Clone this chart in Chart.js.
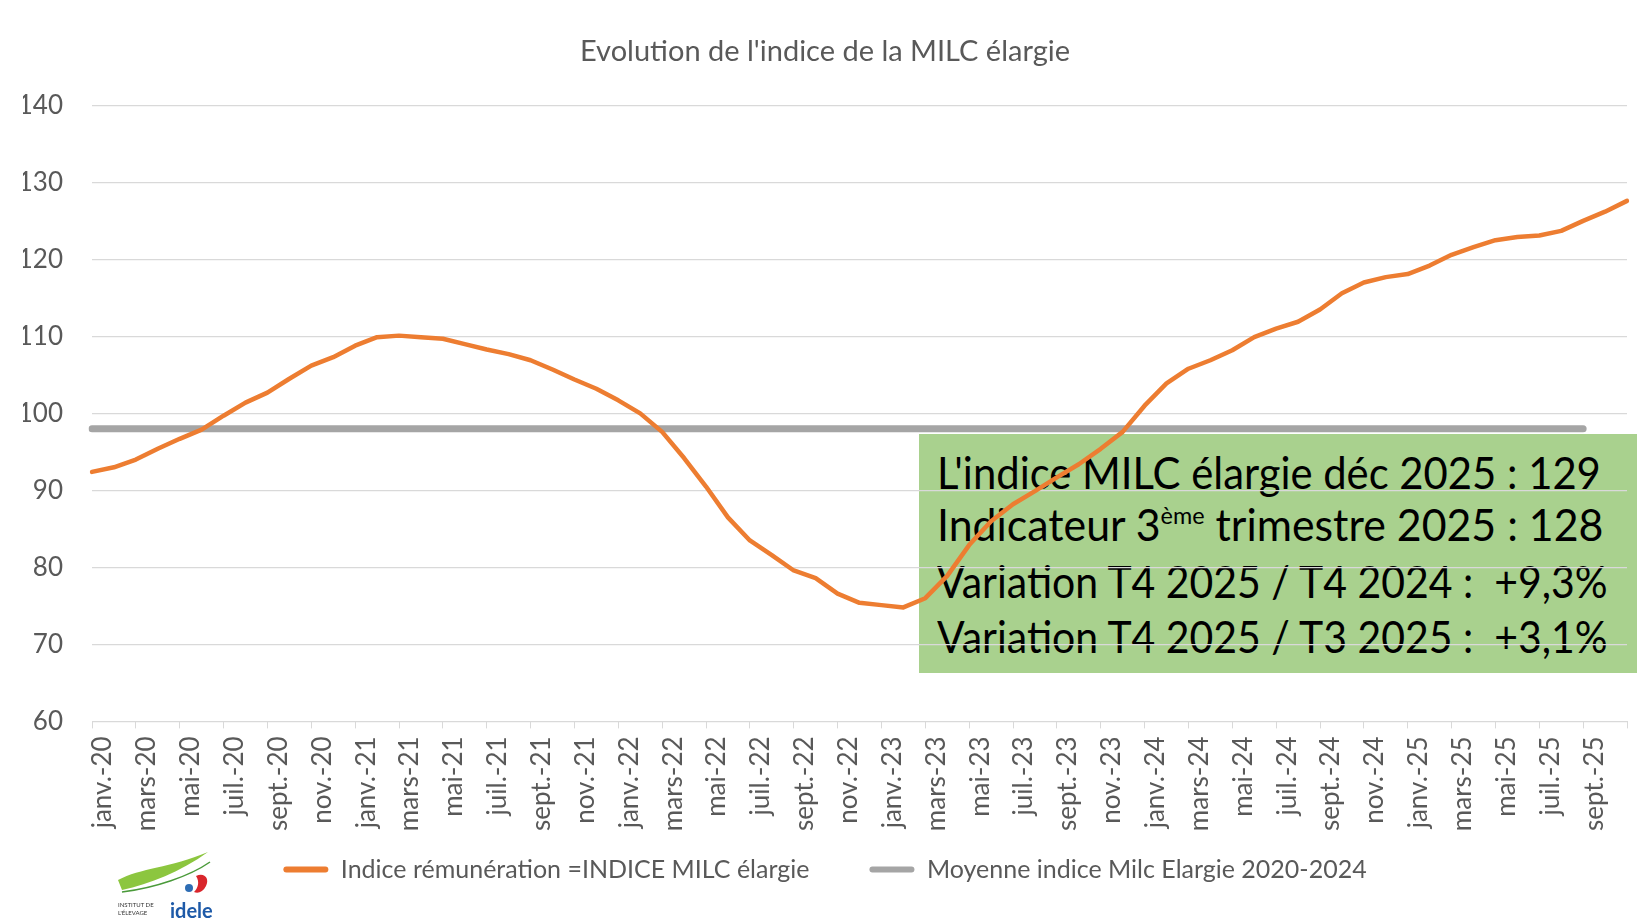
<!DOCTYPE html>
<html lang="fr">
<head>
<meta charset="utf-8">
<title>Evolution de l'indice de la MILC élargie</title>
<script src="https://cdn.jsdelivr.net/npm/chart.js@4.4.1/dist/chart.umd.min.js"></script>
<style>
  html, body { margin: 0; padding: 0; background: #fff; overflow: hidden; }
  #wrap { position: relative; width: 1637px; height: 920px; font-family: Lato, 'Noto Sans', sans-serif; }
  #encadre { position: absolute; left: 919px; top: 434px; width: 718px; height: 239px; background: #a9d18e; z-index: 0; }
  .ligne { position: absolute; left: 17.5px; font-size: 44px; line-height: 44px; color: #000; white-space: pre; transform-origin: 0 0; }
  .sup { font-size: 24px; position: relative; top: -17px; }
  #graphique { position: absolute; left: 0; top: 0; z-index: 1; }
  #logo { position: absolute; left: 110px; top: 850px; z-index: 2; }
</style>
</head>
<body>
<div id="wrap">
  <!-- encadré vert, placé sous le canvas : les lignes du graphique passent par-dessus -->
  <div id="encadre">
    <div class="ligne" style="top:15.6px" data-largeur="664">L'indice MILC élargie déc 2025 : 129</div>
    <div class="ligne" style="top:68px" data-largeur="666">Indicateur 3<span class="sup">ème</span> trimestre 2025 : 128</div>
    <div class="ligne" style="top:125px" data-largeur="671">Variation T4 2025 / T4 2024 :  +9,3%</div>
    <div class="ligne" style="top:179.5px" data-largeur="671">Variation T4 2025 / T3 2025 :  +3,1%</div>
  </div>
  <canvas id="graphique" width="1637" height="920"></canvas>
  <svg id="logo" width="110" height="70" viewBox="0 0 110 70">
    <path d="M8 30 C 30 18, 60 18, 98 2 C 70 22, 40 34, 12 40 Z" fill="#8cc63f"/>
    <path d="M12 42 C 45 38, 80 26, 100 12" stroke="#4a9a3a" stroke-width="1.5" fill="none"/>
    <path d="M86 26 c8 -4 14 2 10 10 c-3 6 -8 8 -12 6 c4 -4 6 -10 2 -16 z" fill="#d9262c"/>
    <circle cx="79" cy="38" r="4" fill="#2e6db4"/>
    <text x="8" y="57" font-size="6" fill="#333" font-family="Lato">INSTITUT DE</text>
    <text x="8" y="65" font-size="6" fill="#333" font-family="Lato">L'ÉLEVAGE</text>
    <text x="60" y="68" font-size="20" font-weight="bold" fill="#1e5aa8" font-family="Lato">idele</text>
  </svg>
</div>

<script>
// mois de janv. 2020 à nov. 2025
const moisLabels = [
  'janv.-20', 'févr.-20', 'mars-20', 'avr.-20', 'mai-20', 'juin-20', 'juil.-20', 'août-20', 'sept.-20', 'oct.-20', 'nov.-20', 'déc.-20',
  'janv.-21', 'févr.-21', 'mars-21', 'avr.-21', 'mai-21', 'juin-21', 'juil.-21', 'août-21', 'sept.-21', 'oct.-21', 'nov.-21', 'déc.-21',
  'janv.-22', 'févr.-22', 'mars-22', 'avr.-22', 'mai-22', 'juin-22', 'juil.-22', 'août-22', 'sept.-22', 'oct.-22', 'nov.-22', 'déc.-22',
  'janv.-23', 'févr.-23', 'mars-23', 'avr.-23', 'mai-23', 'juin-23', 'juil.-23', 'août-23', 'sept.-23', 'oct.-23', 'nov.-23', 'déc.-23',
  'janv.-24', 'févr.-24', 'mars-24', 'avr.-24', 'mai-24', 'juin-24', 'juil.-24', 'août-24', 'sept.-24', 'oct.-24', 'nov.-24', 'déc.-24',
  'janv.-25', 'févr.-25', 'mars-25', 'avr.-25', 'mai-25', 'juin-25', 'juil.-25', 'août-25', 'sept.-25', 'oct.-25', 'nov.-25'
];

// Indice rémunération = indice MILC élargie
const indiceMilc = [
  92.4, 93.0, 94.0, 95.4, 96.7, 97.9, 99.7, 101.4, 102.7, 104.5, 106.2, 107.3,
  108.8, 109.9, 110.1, 109.9, 109.7, 109.0, 108.3, 107.7, 106.9, 105.7, 104.4, 103.2,
  101.7, 100.0, 97.6, 94.2, 90.5, 86.5, 83.5, 81.6, 79.6, 78.6, 76.6, 75.4,
  75.1, 74.8, 76.0, 78.9, 82.9, 86.0, 88.2, 89.9, 91.7, 93.4, 95.4, 97.6,
  101.0, 103.9, 105.8, 106.9, 108.2, 109.9, 111.0, 111.9, 113.5, 115.6, 117.0, 117.7,
  118.1, 119.2, 120.6, 121.6, 122.5, 122.9, 123.1, 123.7, 125.0, 126.2, 127.6
];

// moyenne 2020-2024 : droite horizontale
const moyenneMois = ['janv.-20', 'sept.-25'];
const moyenneValeurs = [98, 98];

const yMin = 60;
const yMax = 140;
const yPas = 10;

const gris = '#595959';
Chart.defaults.font.family = "Lato, 'Noto Sans', sans-serif";

const chart = new Chart(document.getElementById('graphique'), {
  type: 'line',
  data: {
    labels: moisLabels,
    datasets: [
      {
        label: 'Indice rémunération =INDICE MILC élargie',
        data: indiceMilc,
        borderColor: '#ed7d31',
        backgroundColor: '#ed7d31',
        borderWidth: 4.5,
        pointRadius: 0,
        tension: 0,
        borderJoinStyle: 'round',
        borderCapStyle: 'round'
      },
      {
        label: 'Moyenne indice Milc Elargie 2020-2024',
        data: moyenneMois.map((m, i) => ({ x: m, y: moyenneValeurs[i] })),
        borderColor: '#a5a5a5',
        backgroundColor: '#a5a5a5',
        borderWidth: 7,
        pointRadius: 0,
        borderCapStyle: 'round'
      }
    ]
  },
  options: {
    responsive: false,
    animation: false,
    devicePixelRatio: 1,
    layout: { padding: { left: 23, right: 10, top: 0, bottom: 28 } },
    plugins: {
      title: {
        display: true,
        text: "Evolution de l'indice de la MILC élargie",
        color: gris,
        font: { size: 29, weight: 'normal' },
        padding: { top: 34.6, bottom: 36 }
      },
      legend: {
        position: 'bottom',
        labels: {
          color: gris,
          font: { size: 25 },
          boxWidth: 45,
          boxHeight: 6,
          padding: 60,
          useBorderRadius: true,
          borderRadius: 3,
          generateLabels: (c) => Chart.defaults.plugins.legend.labels.generateLabels(c)
            .map(l => ({ ...l, lineWidth: 0 }))
        }
      },
      tooltip: { enabled: false }
    },
    scales: {
      x: {
        offset: false,
        grid: {
          drawOnChartArea: false,
          drawTicks: true,
          tickLength: 7,
          color: (ctx) => ctx.index % 2 === 0 ? '#d9d9d9' : 'rgba(0,0,0,0)'
        },
        border: { color: '#d9d9d9' },
        ticks: {
          autoSkip: false,
          minRotation: 90,
          maxRotation: 90,
          labelOffset: 11,
          padding: 8,
          color: gris,
          font: { size: 26 },
          callback: (v, i) => (i % 2 === 0 && i < moisLabels.length - 1) ? moisLabels[i] : ''
        },
        afterFit: (s) => {
          s.height = 75.6;
          s.paddingLeft = 0;
          s.paddingRight = 0;
          // les étiquettes débordent sous l'axe : on ne les coupe pas
          s._computeLabelArea = () => ({ top: s.top, left: 0, bottom: s.chart.height, right: s.chart.width });
        }
      },
      y: {
        min: yMin,
        max: yMax,
        ticks: { stepSize: yPas, padding: 29, color: gris, font: { size: 26 } },
        grid: { color: '#d9d9d9', drawTicks: false, lineWidth: 1.3 },
        border: { display: false },
        afterFit: (s) => { s.width = 69; }
      }
    }
  }
});

// ajuste la largeur des lignes de l'encadré
document.fonts.ready.then(() => {
  document.querySelectorAll('.ligne').forEach(el => {
    const cible = parseFloat(el.dataset.largeur);
    el.style.transform = 'scaleX(' + (cible / el.offsetWidth) + ')';
  });
});
</script>
</body>
</html>
